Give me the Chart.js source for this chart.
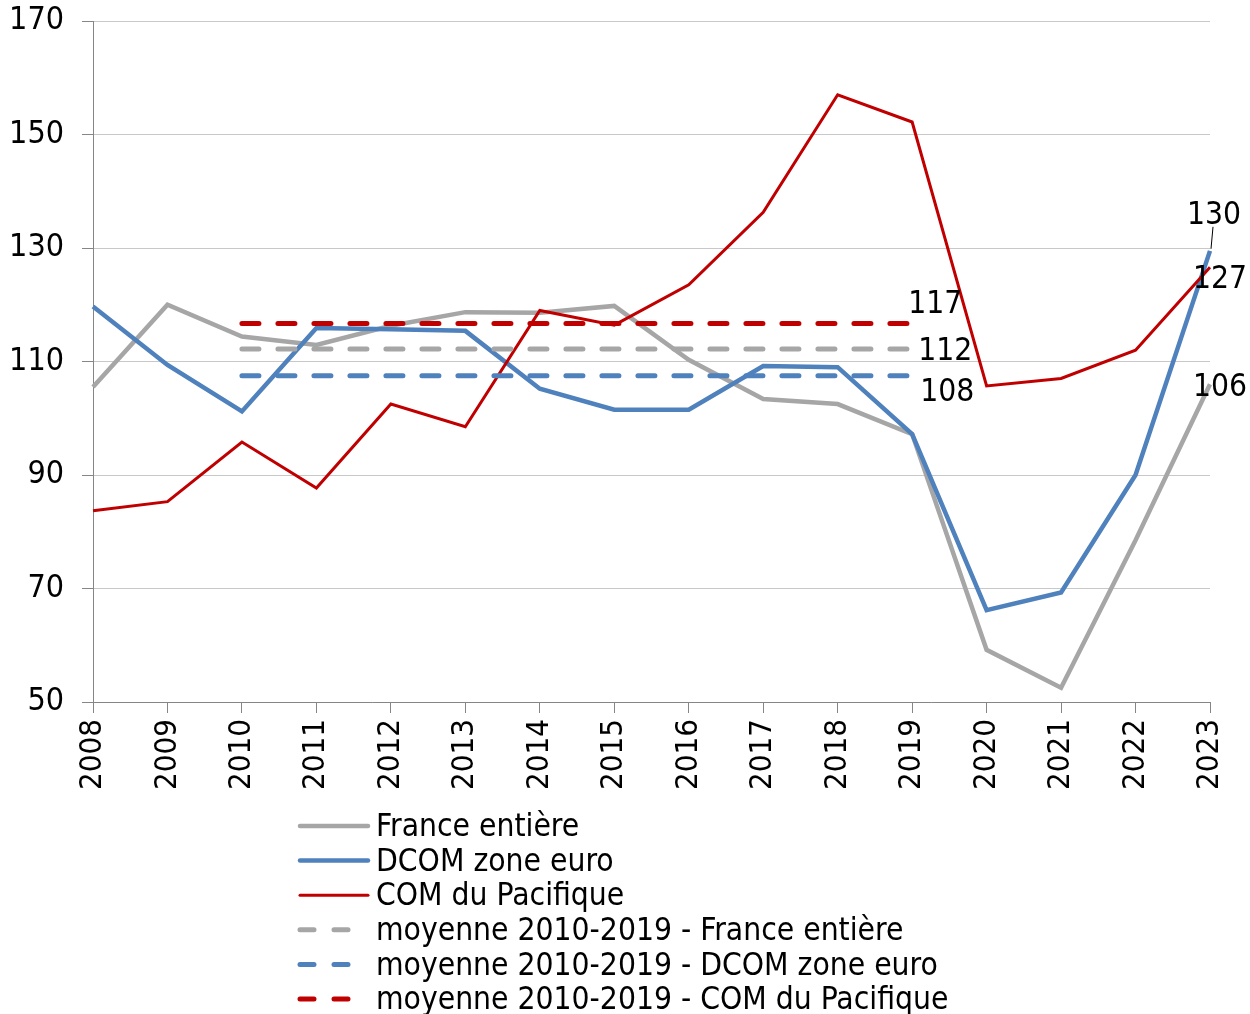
<!DOCTYPE html>
<html lang="fr">
  <head>
    <meta charset="UTF-8" />
    <title>Indice 2008-2023</title>
    <script src="https://cdn.jsdelivr.net/npm/chart.js@4.4.0/dist/chart.umd.min.js"></script>
    <style>
      body { margin: 0; background: #fff; }
      canvas { display: block; }
    </style>
  </head>
  <body>
    <canvas id="myChart" width="1250" height="1014"></canvas>

    <script>
      // valeurs
      const years = ['2008','2009','2010','2011','2012','2013','2014','2015','2016','2017','2018','2019','2020','2021','2022','2023']
      const franceEntiere = [105.5, 120, 114.4, 112.9, 116.3, 118.7, 118.6, 119.8, 110.3, 103.4, 102.5, 97.2, 59.2, 52.5, 78.5, 106]
      const dcomZoneEuro = [119.7, 109.4, 101.2, 115.9, 115.7, 115.4, 105.2, 101.5, 101.5, 109.2, 109.0, 97.2, 66.2, 69.3, 90, 129.5]
      const comPacifique = [83.7, 85.3, 95.8, 87.7, 102.5, 98.5, 119, 116.4, 123.5, 136.3, 157, 152.2, 105.7, 107, 112, 126.6]
      const moyFrance = [null, null, 112.2, 112.2, 112.2, 112.2, 112.2, 112.2, 112.2, 112.2, 112.2, 112.2, null, null, null, null]
      const moyDcom = [null, null, 107.5, 107.5, 107.5, 107.5, 107.5, 107.5, 107.5, 107.5, 107.5, 107.5, null, null, null, null]
      const moyPacifique = [null, null, 116.7, 116.7, 116.7, 116.7, 116.7, 116.7, 116.7, 116.7, 116.7, 116.7, null, null, null, null]
      const yTicks = [50, 70, 90, 110, 130, 150, 170]
      const avgLabels = ['112', '108', '117']
      const lastLabels = ['106', '130', '127']

      const FONT = '"DejaVu Sans Condensed", "DejaVu Sans", sans-serif'
      const GRAY = '#a6a6a6'
      const BLUE = '#4f81bd'
      const RED = '#c00000'

      // étiquettes et légende dessinées à la main (mise en page façon Excel)
      const extras = {
        id: 'extras',
        afterDatasetsDraw(chart) {
          const ctx = chart.ctx
          const x = chart.scales.x
          const y = chart.scales.y
          ctx.save()
          ctx.font = '31.5px ' + FONT
          ctx.fillStyle = '#000'
          ctx.textBaseline = 'middle'
          ctx.textAlign = 'left'

          // moyennes (fin de ligne 2019)
          const x19 = x.getPixelForValue(11)
          ctx.fillText(avgLabels[2], x19 - 4, y.getPixelForValue(moyPacifique[11]) - 19)
          ctx.fillText(avgLabels[0], x19 + 6, y.getPixelForValue(moyFrance[11]) + 3)
          ctx.fillText(avgLabels[1], x19 + 8, y.getPixelForValue(moyDcom[11]) + 17)

          // valeurs 2023
          const x23 = x.getPixelForValue(15)
          ctx.fillText(lastLabels[0], x23 - 17, y.getPixelForValue(franceEntiere[15]) + 4)
          ctx.fillText(lastLabels[1], x23 - 23, y.getPixelForValue(dcomZoneEuro[15]) - 35)
          ctx.fillText(lastLabels[2], x23 - 17, y.getPixelForValue(comPacifique[15]) + 13)
          // petit trait vers le point 130
          ctx.strokeStyle = '#000'
          ctx.lineWidth = 1
          ctx.beginPath()
          ctx.moveTo(x23 + 3, y.getPixelForValue(dcomZoneEuro[15]) - 24)
          ctx.lineTo(x23 + 1, y.getPixelForValue(dcomZoneEuro[15]) - 2)
          ctx.stroke()

          // légende
          const lx = 298, tx = 376, top = 826, step = 34.6
          chart.data.datasets.forEach((ds, i) => {
            const cy = top + i * step
            ctx.strokeStyle = ds.borderColor
            ctx.lineWidth = ds.borderDash ? 5 : ds.borderWidth
            ctx.lineCap = 'round'
            ctx.setLineDash(ds.borderDash ? [14, 20] : [])
            ctx.beginPath()
            ctx.moveTo(lx + 2, cy)
            ctx.lineTo(lx + 70, cy)
            ctx.stroke()
            ctx.setLineDash([])
            ctx.fillText(ds.label, tx, cy + 2)
          })
          ctx.restore()
        }
      }

      const ctx = document.getElementById('myChart').getContext('2d')
      const myChart = new Chart(ctx, {
        type: 'line',
        data: {
          labels: years,
          datasets: [
            { label: 'France entière', data: franceEntiere, borderColor: GRAY, borderWidth: 4.5, order: 6 },
            { label: 'DCOM zone euro', data: dcomZoneEuro, borderColor: BLUE, borderWidth: 4.5, order: 5 },
            { label: 'COM du Pacifique', data: comPacifique, borderColor: RED, borderWidth: 3, order: 4 },
            { label: 'moyenne 2010-2019 - France entière', data: moyFrance, borderColor: GRAY, borderWidth: 5, borderDash: [17, 19], borderCapStyle: 'round', order: 3 },
            { label: 'moyenne 2010-2019 - DCOM zone euro', data: moyDcom, borderColor: BLUE, borderWidth: 5, borderDash: [17, 19], borderCapStyle: 'round', order: 2 },
            { label: 'moyenne 2010-2019 - COM du Pacifique', data: moyPacifique, borderColor: RED, borderWidth: 5, borderDash: [17, 19], borderCapStyle: 'round', order: 1 }
          ]
        },
        options: {
          responsive: false,
          animation: false,
          devicePixelRatio: 1,
          elements: {
            point: { radius: 0, hoverRadius: 0 },
            line: { tension: 0, fill: false, borderJoinStyle: 'miter' }
          },
          layout: { padding: { top: 21, right: 40, left: 0, bottom: 200 } },
          plugins: {
            legend: { display: false },
            tooltip: { enabled: false }
          },
          scales: {
            x: {
              offset: false,
              grid: { drawOnChartArea: false, drawTicks: true, tickLength: 11, color: '#868686' },
              border: { color: '#868686', width: 1 },
              ticks: {
                color: '#000',
                font: { family: FONT, size: 31 },
                minRotation: 90,
                maxRotation: 90,
                padding: 6,
                autoSkip: false
              },
              afterFit(scale) {
                scale.height = 112
                scale.paddingLeft = 0
                scale.paddingRight = 0
              }
            },
            y: {
              min: 50,
              max: 170,
              afterBuildTicks(scale) { scale.ticks = yTicks.map(v => ({ value: v })) },
              grid: { color: '#c8c8c8', tickLength: 11, tickColor: '#868686' },
              border: { color: '#868686', width: 1 },
              ticks: {
                color: '#000',
                font: { family: FONT, size: 32 },
                padding: 18
              },
              afterFit(scale) {
                scale.width = 93
                scale.paddingTop = 0
                scale.paddingBottom = 0
              }
            }
          }
        },
        plugins: [extras]
      })
    </script>
  </body>
</html>
